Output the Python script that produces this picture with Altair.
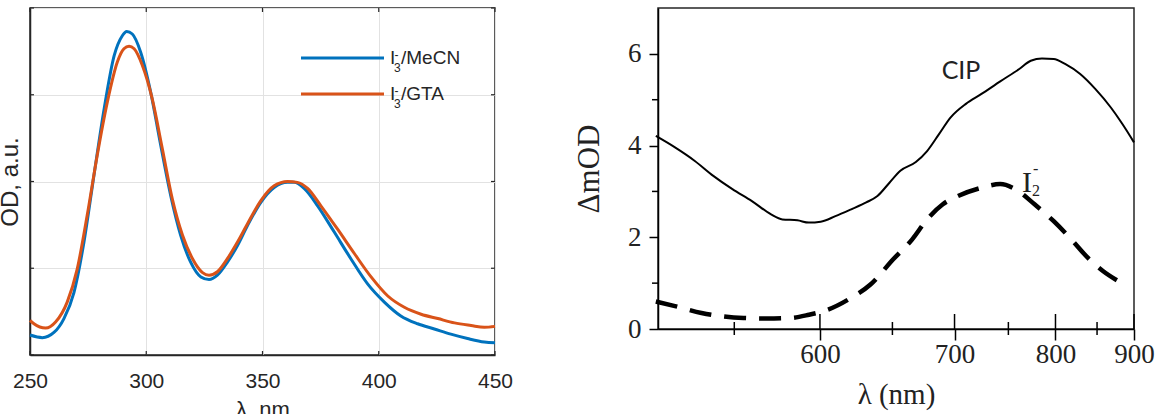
import altair as alt
import pandas as pd

# ---------------- Left panel: I3- absorption spectra ----------------
wl_mecn = [250, 255.3, 260.3, 264.6, 268.9, 273.2, 277.5, 281.9, 286.2, 289.7, 291.6, 294, 297.6,
           301.9, 306.2, 310.5, 314.8, 319.1, 323.5, 327, 330.6, 334.9, 339.2, 343.5, 349.3, 355,
           360.8, 363.6, 367.9, 373.7, 380.8, 388, 395.2, 402.4, 409.5, 416.7, 423.9, 431, 438.2,
           445.4, 450]
od_mecn = [0.23, 0.20, 0.26, 0.42, 0.72, 1.30, 2.07, 2.84, 3.45, 3.68, 3.73, 3.70, 3.49,
           3.03, 2.42, 1.84, 1.38, 1.07, 0.90, 0.87, 0.92, 1.07, 1.26, 1.49, 1.76, 1.93,
           1.99, 1.99, 1.92, 1.72, 1.42, 1.11, 0.82, 0.61, 0.45, 0.36, 0.30, 0.24, 0.19,
           0.15, 0.14]
wl_gta = [250, 251.7, 256.7, 261, 266, 270.3, 274.6, 278.9, 283.3, 287.6, 290.4, 292.6, 294.8,
          298.3, 302.6, 306.9, 311.2, 315.6, 319.9, 324.2, 327, 330.6, 334.9, 339.2, 343.5,
          349.3, 355, 360.8, 365, 369.4, 375.1, 382.3, 389.5, 396.7, 403.9, 411, 418.2, 425.4,
          432.6, 439.7, 445.4, 450]
od_gta = [0.40, 0.36, 0.31, 0.38, 0.61, 0.99, 1.61, 2.30, 2.92, 3.38, 3.53, 3.56, 3.53,
          3.34, 2.95, 2.38, 1.80, 1.38, 1.11, 0.95, 0.92, 0.96, 1.11, 1.30, 1.51,
          1.78, 1.95, 2.00, 1.99, 1.92, 1.72, 1.45, 1.17, 0.90, 0.68, 0.55, 0.47, 0.42,
          0.37, 0.34, 0.32, 0.33]
series_left = ["MeCN", "GTA"]
colors_left = ["#0072BD", "#D95319"]
x_left_ticks = [250, 300, 350, 400, 450]
y_left_ticks = [0, 1, 2, 3, 4]

# ---------------- Right panel: transient spectra ----------------
wl_cip = [511, 520, 529.5, 539, 549, 559.6, 570.4, 577, 586, 593, 600.5, 610, 620.6, 631, 639,
          647.8, 656, 668, 677, 686.8, 696.5, 710, 723.8, 742, 761, 773, 785, 798, 811, 829,
          848, 868, 883.7, 900]
dod_cip = [4.21, 3.96, 3.67, 3.34, 3.05, 2.79, 2.50, 2.39, 2.37, 2.32, 2.34, 2.46, 2.61, 2.76,
           2.90, 3.19, 3.45, 3.64, 3.88, 4.25, 4.61, 4.91, 5.12, 5.40, 5.67, 5.85, 5.90, 5.89,
           5.78, 5.56, 5.23, 4.83, 4.47, 4.07]
wl_i2 = [511, 520, 533, 543, 555, 568, 581.6, 593, 605, 620.6, 634, 650.6, 665, 677, 690, 703,
         724, 742, 757, 777, 798, 820, 838.6, 858, 878.5]
dod_i2 = [0.60, 0.50, 0.35, 0.28, 0.24, 0.23, 0.24, 0.31, 0.42, 0.68, 0.97, 1.52, 1.95, 2.39,
          2.72, 2.90, 3.08, 3.16, 3.05, 2.72, 2.35, 1.92, 1.55, 1.26, 1.04]
x_right_major = [600, 700, 800, 900]
x_right_minor = [550, 650, 750, 850]
y_right_major = [0, 2, 4, 6]
y_right_minor = [1, 3, 5]

SANS = "Liberation Sans"
SERIF = "Liberation Serif"
DARK = "#262626"

LW, LH = 465, 347
RW, RH = 476, 321

one = pd.DataFrame({"k": [0]})

# ---------- left chart ----------
df_mecn = pd.DataFrame({"wl": wl_mecn, "od": od_mecn, "series": series_left[0]})
df_gta = pd.DataFrame({"wl": wl_gta, "od": od_gta, "series": series_left[1]})

xl = alt.X("wl:Q", scale=alt.Scale(domain=[250, 450], nice=False, zero=False),
           axis=alt.Axis(values=x_left_ticks, title="λ, nm", grid=True, gridColor="#e2e2e2",
                         gridWidth=1, ticks=False, labelFont=SANS, labelFontSize=21,
                         labelColor=DARK, labelPadding=15, labelFlush=False, titleFont=SANS,
                         titleFontSize=22, titleFontWeight="normal", titleColor=DARK,
                         titlePadding=8, domainColor=DARK, domainWidth=1.5, format="d"))
yl = alt.Y("od:Q", scale=alt.Scale(domain=[0, 4], nice=False, zero=False),
           axis=alt.Axis(values=y_left_ticks, title="OD, a.u.", grid=True, gridColor="#e2e2e2",
                         gridWidth=1, ticks=False, labels=False, titleFont=SANS,
                         titleFontSize=24, titleFontWeight="normal", titleColor=DARK,
                         titlePadding=8, domainColor=DARK, domainWidth=1.5))

line_mecn = alt.Chart(df_mecn).mark_line(strokeWidth=3, color=colors_left[0],
                                         interpolate="monotone").encode(x=xl, y=yl)
line_gta = alt.Chart(df_gta).mark_line(strokeWidth=3, color=colors_left[1],
                                       interpolate="monotone").encode(x=xl, y=yl)

# small inward ticks on all four sides of the left box
lt_bottom = alt.Chart(pd.DataFrame({"wl": x_left_ticks})).mark_rule(
    color=DARK, strokeWidth=1.2).encode(x=xl, y=alt.value(LH - 4), y2=alt.value(LH))
lt_top = alt.Chart(pd.DataFrame({"wl": x_left_ticks})).mark_rule(
    color=DARK, strokeWidth=1.2).encode(x=xl, y=alt.value(0), y2=alt.value(4))
lt_left = alt.Chart(pd.DataFrame({"od": y_left_ticks})).mark_rule(
    color=DARK, strokeWidth=1.2).encode(y=yl, x=alt.value(0), x2=alt.value(4))
lt_right = alt.Chart(pd.DataFrame({"od": y_left_ticks})).mark_rule(
    color=DARK, strokeWidth=1.2).encode(y=yl, x=alt.value(LW - 4), x2=alt.value(LW))

legend_layers = []
for i, (name, col) in enumerate(zip(series_left, colors_left)):
    yb = 56 + 36 * i
    legend_layers.append(alt.Chart(one).mark_rule(color=col, strokeWidth=3).encode(
        x=alt.value(271), x2=alt.value(354), y=alt.value(yb - 6)))
    legend_layers.append(alt.Chart(one).mark_text(text="I", font=SANS, fontSize=19, color=DARK,
                                                 align="left", baseline="alphabetic").encode(
        x=alt.value(360), y=alt.value(yb)))
    legend_layers.append(alt.Chart(one).mark_text(text="3", font=SANS, fontSize=12, color=DARK,
                                                 align="left", baseline="alphabetic").encode(
        x=alt.value(364), y=alt.value(yb + 8)))
    legend_layers.append(alt.Chart(one).mark_text(text="-", font=SANS, fontSize=12, color=DARK,
                                                 align="left", baseline="alphabetic").encode(
        x=alt.value(364.5), y=alt.value(yb - 5)))
    legend_layers.append(alt.Chart(one).mark_text(text="/" + name, font=SANS, fontSize=19,
                                                 color=DARK, align="left",
                                                 baseline="alphabetic").encode(
        x=alt.value(371), y=alt.value(yb)))

left = alt.layer(line_mecn, line_gta, lt_bottom, lt_top, lt_left, lt_right,
                 *legend_layers).properties(width=LW, height=LH)

# ---------- right chart ----------
df_cip = pd.DataFrame({"wl": wl_cip, "dod": dod_cip})
df_i2 = pd.DataFrame({"wl": wl_i2, "dod": dod_i2})

xr = alt.X("wl:Q", scale=alt.Scale(type="pow", exponent=-1, domain=[512, 900], nice=False,
                                   zero=False),
           axis=alt.Axis(values=x_right_major, title="λ (nm)", grid=False, tickSize=11,
                         tickColor="black", tickWidth=1.5, labelFont=SERIF, labelFontSize=27,
                         labelColor="#222222", labelPadding=1, labelFlush=False,
                         titleFont=SERIF, titleFontSize=29, titleFontWeight="normal",
                         titleColor="#222222", titlePadding=13, domainColor="black",
                         domainWidth=1.5, format="d"))
yr = alt.Y("dod:Q", scale=alt.Scale(domain=[0, 7], nice=False, zero=False),
           axis=alt.Axis(values=y_right_major, title="ΔmOD", grid=False, tickSize=9,
                         tickColor="black", tickWidth=1.5, labelFont=SERIF, labelFontSize=27,
                         labelColor="#222222", labelPadding=8, titleFont=SERIF,
                         titleFontSize=31, titleFontWeight="normal", titleColor="#222222",
                         titlePadding=22, domainColor="black", domainWidth=1.5, format="d"))

cip = alt.Chart(df_cip).mark_line(strokeWidth=2, color="black",
                                  interpolate="monotone").encode(x=xr, y=yr)
i2 = alt.Chart(df_i2).mark_line(strokeWidth=4.5, color="black", strokeDash=[22, 13],
                                interpolate="monotone").encode(x=xr, y=yr)

tick_major_in = alt.Chart(pd.DataFrame({"wl": x_right_major})).mark_rule(
    color="black", strokeWidth=1.5).encode(x=xr, y=alt.value(RH - 15), y2=alt.value(RH))
tick_minor_x = alt.Chart(pd.DataFrame({"wl": x_right_minor})).mark_rule(
    color="black", strokeWidth=1.5).encode(x=xr, y=alt.value(RH - 7), y2=alt.value(RH + 6))
tick_minor_y = alt.Chart(pd.DataFrame({"dod": y_right_minor})).mark_rule(
    color="black", strokeWidth=1.5).encode(y=yr, x=alt.value(-6), x2=alt.value(0))

cip_label = alt.Chart(one).mark_text(text="CIP", font="Lato", fontSize=25, color="#222222",
                                     align="center", baseline="alphabetic").encode(
    x=alt.value(303), y=alt.value(71))
i_label = alt.Chart(one).mark_text(text="I", font=SERIF, fontSize=30, color="#222222",
                                   align="left", baseline="alphabetic").encode(
    x=alt.value(364), y=alt.value(184))
sub_label = alt.Chart(one).mark_text(text="2", font=SERIF, fontSize=16, color="#222222",
                                     align="left", baseline="alphabetic").encode(
    x=alt.value(374), y=alt.value(188))
sup_label = alt.Chart(one).mark_text(text="-", font=SERIF, fontSize=16, color="#222222",
                                     align="left", baseline="alphabetic").encode(
    x=alt.value(375), y=alt.value(166))

right = alt.layer(cip, i2, tick_major_in, tick_minor_x, tick_minor_y, cip_label, i_label,
                  sub_label, sup_label).properties(width=RW, height=RH)

chart = alt.hconcat(left, right, spacing=58).properties(
    padding={"left": -3, "top": 6, "right": 0, "bottom": 0}
).configure_view(stroke=DARK, strokeWidth=1.5)

chart.save("out.html", embed_options={"renderer": "svg", "actions": False})
